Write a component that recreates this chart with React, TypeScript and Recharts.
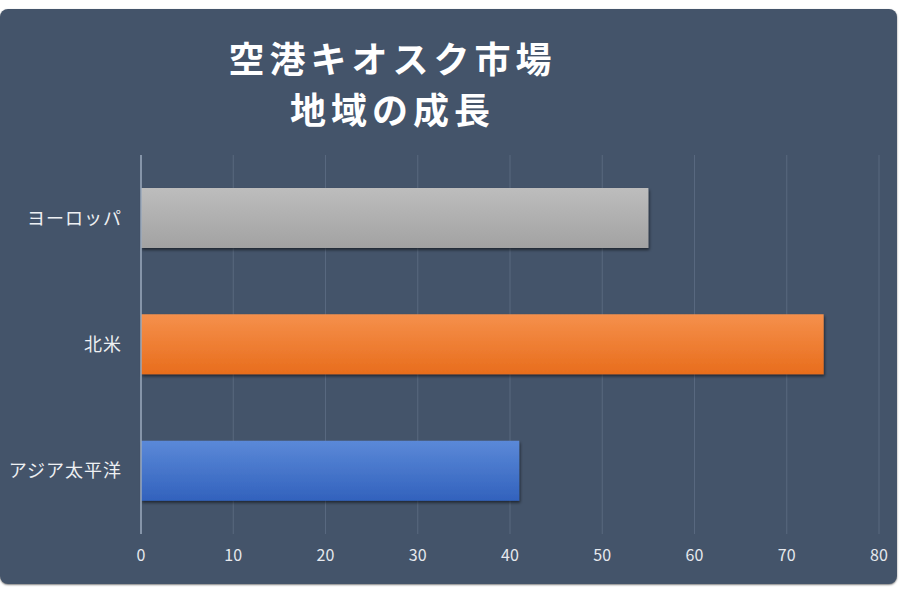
import React from 'react';
import { BarChart, Bar, XAxis, YAxis, CartesianGrid, Cell } from 'recharts';

const categories = ['ヨーロッパ', '北米', 'アジア太平洋'];
const values = [55, 74, 41];
const xTicks = [0, 10, 20, 30, 40, 50, 60, 70, 80];
const titleLines = ['空港キオスク市場', '地域の成長'];
const gradIds = ['gGrey', 'gOrange', 'gBlue'];

const data = categories.map((name, i) => ({ name, value: values[i] }));

const FONT = '"Noto Sans CJK JP", "Noto Sans", sans-serif';

export default function App() {
  return (
    <div style={{ position: 'absolute', left: 0, top: 0, width: 900, height: 599, background: '#ffffff', overflow: 'hidden' }}>
      <div
        style={{
          position: 'absolute',
          left: 0,
          top: 9,
          width: 897,
          height: 575,
          background: '#44546A',
          borderRadius: 8,
          boxShadow: '0 1px 2px rgba(0,0,0,0.5)',
        }}
      />
      <div
        style={{
          position: 'absolute',
          left: 0,
          top: 32,
          width: 785,
          textAlign: 'center',
          color: '#ffffff',
          fontFamily: FONT,
          fontWeight: 700,
          fontSize: 36,
          lineHeight: '51px',
          letterSpacing: 5,
        }}
      >
        {titleLines.map((t) => (
          <div key={t}>{t}</div>
        ))}
      </div>
      <div style={{ position: 'absolute', left: 0, top: 0 }}>
        <BarChart
          width={900}
          height={599}
          data={data}
          layout="vertical"
          margin={{ top: 155, right: 21, bottom: 35, left: 0 }}
          barCategoryGap={0}
        >
          <defs>
            <linearGradient id="gGrey" x1="0" y1="0" x2="0" y2="1">
              <stop offset="0%" stopColor="#bdbdbd" />
              <stop offset="100%" stopColor="#a2a2a2" />
            </linearGradient>
            <linearGradient id="gOrange" x1="0" y1="0" x2="0" y2="1">
              <stop offset="0%" stopColor="#f5904c" />
              <stop offset="100%" stopColor="#e86d1c" />
            </linearGradient>
            <linearGradient id="gBlue" x1="0" y1="0" x2="0" y2="1">
              <stop offset="0%" stopColor="#5b89d8" />
              <stop offset="100%" stopColor="#3262bd" />
            </linearGradient>
            <filter id="barShadow" x="-5%" y="-20%" width="110%" height="150%">
              <feDropShadow dx="1" dy="2" stdDeviation="1.5" floodColor="#000000" floodOpacity="0.55" />
            </filter>
          </defs>
          <CartesianGrid horizontal={false} vertical={true} stroke="#58687f" strokeWidth={1} />
          <XAxis
            type="number"
            domain={[0, 80]}
            ticks={xTicks}
            axisLine={false}
            tickLine={false}
            tickSize={0}
            tickMargin={16}
            height={30}
            tick={{ fill: '#e6e9ee', fontSize: 16, fontFamily: FONT }}
            interval={0}
          />
          <YAxis
            type="category"
            dataKey="name"
            width={141}
            axisLine={{ stroke: '#9aa8bb', strokeWidth: 1.5 }}
            tickLine={false}
            tickSize={0}
            tickMargin={19}
            tick={{ fill: '#eef0f3', fontSize: 18, fontFamily: FONT, letterSpacing: 1 }}
          />
          <Bar dataKey="value" barSize={60} isAnimationActive={false} filter="url(#barShadow)">
            {data.map((d, i) => (
              <Cell key={d.name} fill={`url(#${gradIds[i]})`} />
            ))}
          </Bar>
        </BarChart>
      </div>
    </div>
  );
}
